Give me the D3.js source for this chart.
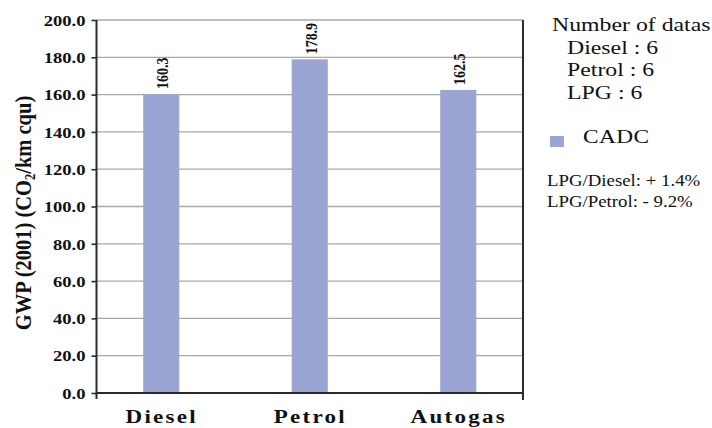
<!DOCTYPE html>
<html>
<head>
<meta charset="utf-8">
<script src="https://cdn.jsdelivr.net/npm/d3@7"></script>
<style>
  html, body { margin: 0; padding: 0; background: #fff; }
  svg { display: block; }
  text { font-family: "Liberation Serif", "Times New Roman", Times, serif; fill: #111; }
</style>
</head>
<body>
<svg id="chart" width="712" height="428"></svg>
<script>
// Fuel types and their mean GWP per km (CADC cycle)
const categories = ["Diesel", "Petrol", "Autogas"];
const cadcValues = [160.3, 178.9, 162.5];
const yTicks = [0, 20, 40, 60, 80, 100, 120, 140, 160, 180, 200];
const seriesName = "CADC";
const sampleLines = ["Number of datas", "Diesel : 6", "Petrol : 6", "LPG : 6"];
const ratioLines = ["LPG/Diesel: + 1.4%", "LPG/Petrol: - 9.2%"];

const svg = d3.select("#chart");
const serif = "'Liberation Serif', 'Times New Roman', serif";
const barColor = "#9ba5d3";
const axisColor = "#2b2b2b";
const gridColor = "#a8a8a8";
const sx = 1.24; // horizontal text stretch

const plotLeft = 96.5, plotRight = 523, plotTop = 20, plotBottom = 393;

const y = d3.scaleLinear().domain([0, 200]).range([plotBottom, plotTop]);
const x = d3.scalePoint().domain(categories).range([plotLeft, plotRight]).padding(0.436);
const barW = x.step() * 0.243;

// gridlines
svg.append("g").selectAll("line").data(yTicks.filter(d => d > 0)).join("line")
  .attr("x1", plotLeft).attr("x2", plotRight)
  .attr("y1", d => y(d)).attr("y2", d => y(d))
  .attr("stroke", gridColor).attr("stroke-width", 1.3);

// bars
svg.append("g").selectAll("rect").data(cadcValues).join("rect")
  .attr("x", (d, i) => x(categories[i]) - barW / 2)
  .attr("width", barW)
  .attr("y", d => y(d))
  .attr("height", d => y(0) - y(d))
  .attr("fill", barColor);

// value labels (vertical)
svg.append("g").selectAll("text").data(cadcValues).join("text")
  .attr("transform", (d, i) => `translate(${x(categories[i]) + 1},${y(d) - 5}) scale(${sx},1) rotate(-90)`)
  .attr("dy", "0.35em")
  .attr("font-family", serif)
  .attr("font-size", 14).attr("font-weight", "bold")
  .text(d => d.toFixed(1));

// y axis
const yAxis = d3.axisLeft(y).tickValues(yTicks).tickSize(5).tickFormat(d3.format(".1f"));
const gy = svg.append("g").attr("transform", `translate(${plotLeft},0)`).call(yAxis);
gy.select(".domain").remove();
gy.selectAll(".tick line").attr("stroke", axisColor).attr("stroke-width", 1.6);
gy.selectAll(".tick text").remove();
gy.selectAll(".tick").append("text")
  .attr("transform", `translate(-11,0) scale(${sx},1)`)
  .attr("dy", "0.35em")
  .attr("text-anchor", "end")
  .attr("font-family", serif)
  .attr("font-size", 15).attr("font-weight", "bold")
  .attr("fill", "#111")
  .text(d => d.toFixed(1));

// axis lines and right frame
svg.append("line").attr("x1", plotLeft).attr("x2", plotLeft).attr("y1", plotTop).attr("y2", plotBottom + 6)
  .attr("stroke", axisColor).attr("stroke-width", 2);
svg.append("line").attr("x1", plotLeft).attr("x2", plotRight).attr("y1", plotBottom).attr("y2", plotBottom)
  .attr("stroke", axisColor).attr("stroke-width", 2);
svg.append("line").attr("x1", plotRight).attr("x2", plotRight).attr("y1", plotTop).attr("y2", plotBottom + 7)
  .attr("stroke", axisColor).attr("stroke-width", 2);

// x category labels
const xAxis = d3.axisBottom(x).tickSize(0);
const gx = svg.append("g").attr("transform", `translate(0,${plotBottom})`).call(xAxis);
gx.select(".domain").remove();
gx.selectAll(".tick text").remove();
gx.selectAll(".tick").append("text")
  .attr("transform", `translate(0,30) scale(${sx},1)`)
  .attr("text-anchor", "middle")
  .attr("font-family", serif)
  .attr("font-size", 18.6).attr("font-weight", "bold")
  .attr("letter-spacing", 1.8)
  .attr("fill", "#111")
  .text(d => d);

// y axis title
const title = svg.append("text")
  .attr("transform", `translate(23,213) scale(1.1,1) rotate(-90)`)
  .attr("text-anchor", "middle")
  .attr("dy", "0.35em")
  .attr("font-family", serif)
  .attr("font-size", 20.5).attr("font-weight", "bold");
title.append("tspan").text("GWP (2001) (CO");
title.append("tspan").attr("font-size", 12.5).attr("dy", "0.3em").text("2");
title.append("tspan").attr("dy", "-0.2em").text("/km cqu)");

// legend / notes
const notes = svg.append("g").attr("font-family", serif);
sampleLines.forEach((t, i) => {
  notes.append("text")
    .attr("transform", `translate(${i === 0 ? 552 : 567},${31 + i * 22.5}) scale(1.22,1)`)
    .attr("font-family", serif)
    .attr("font-size", 19.5)
    .text(t);
});
notes.append("rect").attr("x", 550).attr("y", 136).attr("width", 14).attr("height", 11).attr("fill", barColor);
notes.append("text")
  .attr("transform", `translate(583,143) scale(1.3,1)`)
  .attr("font-family", serif)
  .attr("font-size", 18)
  .attr("letter-spacing", 0.3)
  .text(seriesName);
ratioLines.forEach((t, i) => {
  notes.append("text")
    .attr("transform", `translate(547,${186 + i * 20.5}) scale(1.12,1)`)
    .attr("font-family", serif)
    .attr("font-size", 16.8)
    .text(t);
});
</script>
</body>
</html>
